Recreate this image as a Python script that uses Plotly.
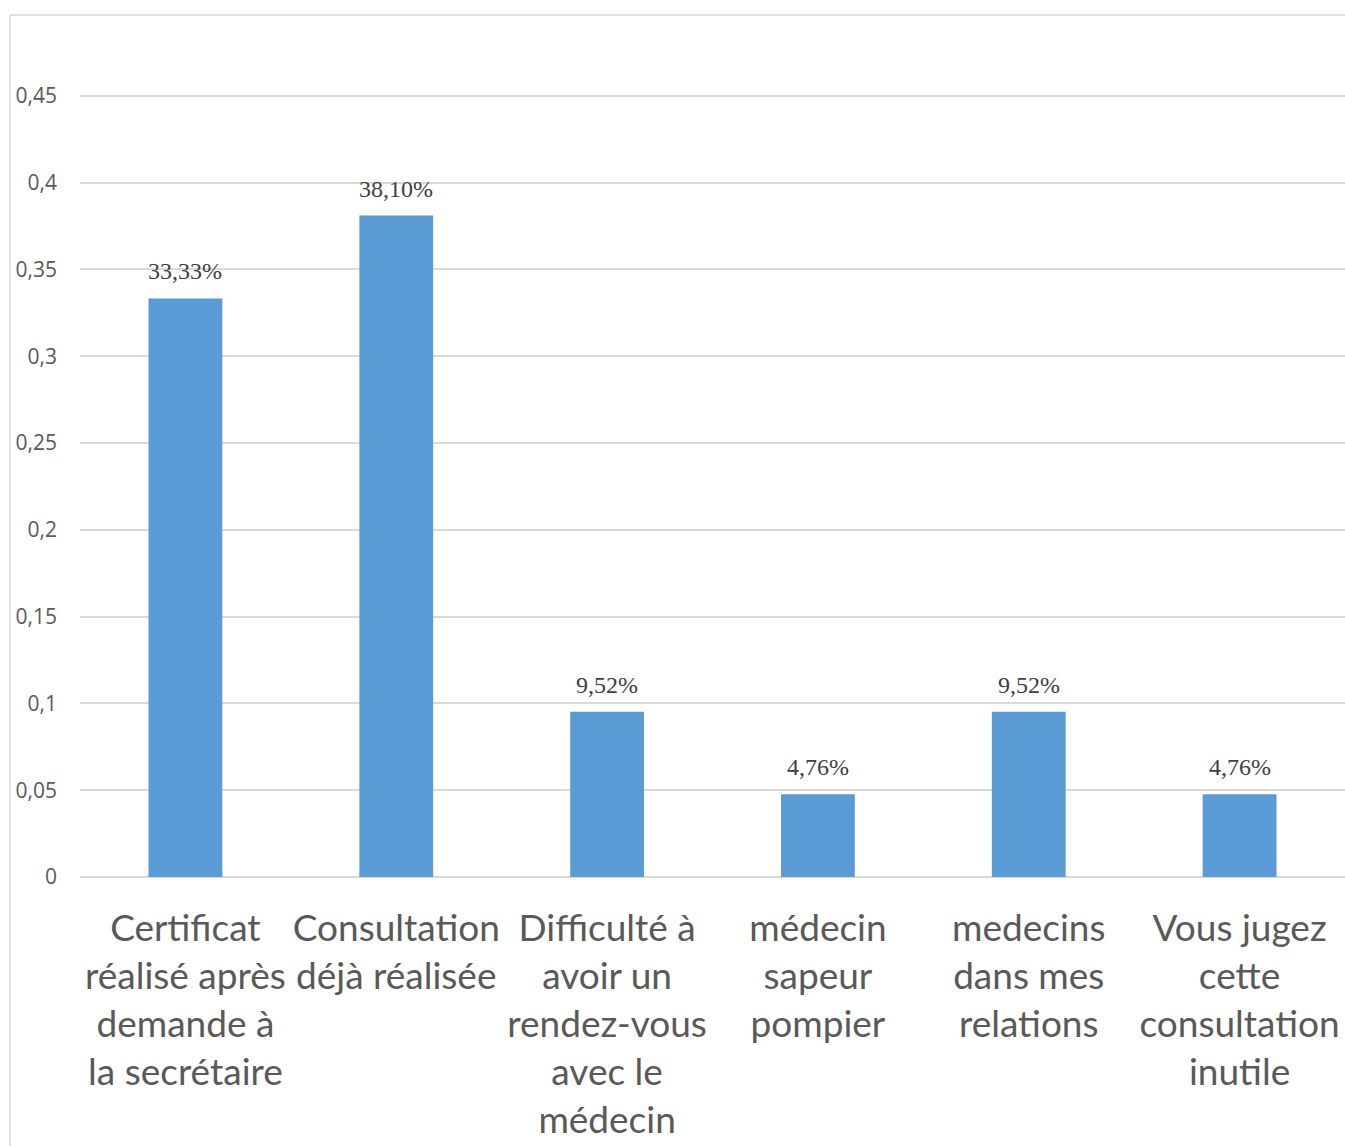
import plotly.graph_objects as go

categories = [
    "Certificat<br>réalisé après<br>demande à<br>la secrétaire",
    "Consultation<br>déjà réalisée",
    "Difficulté à<br>avoir un<br>rendez-vous<br>avec le<br>médecin",
    "médecin<br>sapeur<br>pompier",
    "medecins<br>dans mes<br>relations",
    "Vous jugez<br>cette<br>consultation<br>inutile",
]
values = [0.3333, 0.3810, 0.0952, 0.0476, 0.0952, 0.0476]
y_ticks = [0, 0.05, 0.1, 0.15, 0.2, 0.25, 0.3, 0.35, 0.4, 0.45]
y_ticktext = ["0", "0,05", "0,1", "0,15", "0,2", "0,25", "0,3", "0,35", "0,4", "0,45"]

fig = go.Figure()
fig.add_trace(go.Bar(
    x=categories,
    y=values,
    marker_color='#5B9BD5',
    marker_line_width=0,
    hoverinfo='skip',
))

for c, v in zip(categories, values):
    fig.add_annotation(
        x=c, y=v,
        text=f"{v*100:.2f}%".replace('.', ','),
        showarrow=False,
        yanchor='middle',
        yshift=27,
        font=dict(family='Liberation Serif', size=24, color='#404040'),
    )

# chart border (clipped at right/bottom like the source)
fig.add_shape(type='line', xref='paper', yref='paper',
              x0=-0.0553, x1=-0.0553, y0=0.993, y1=-0.32,
              line=dict(color='#d9d9d9', width=1.5))
fig.add_shape(type='line', xref='paper', yref='paper',
              x0=-0.0553, x1=1.0, y0=0.993, y1=0.993,
              line=dict(color='#d9d9d9', width=1.5))

fig.update_layout(
    width=1345,
    height=1146,
    margin=dict(l=80, r=0, t=9, b=269, pad=0),
    paper_bgcolor='white',
    plot_bgcolor='white',
    bargap=0.65,
    showlegend=False,
    font=dict(family='Open Sans', color='#595959'),
)
fig.update_xaxes(
    showgrid=False,
    showline=False,
    tickfont=dict(family='Lato', size=37, color='#595959'),
    ticklabelstandoff=26,
)
fig.update_yaxes(
    range=[0, 0.5],
    tickvals=y_ticks,
    ticktext=y_ticktext,
    showgrid=True,
    gridcolor='#d9d9d9',
    gridwidth=1.5,
    zeroline=True,
    zerolinecolor='#d9d9d9',
    zerolinewidth=1.5,
    tickfont=dict(family='Open Sans', size=21, color='#595959'),
    ticklabelstandoff=22,
)

fig.write_html(
    "out.html",
    config={'displayModeBar': False},
    post_script="document.body.style.margin='0';document.body.style.overflow='hidden';",
)
